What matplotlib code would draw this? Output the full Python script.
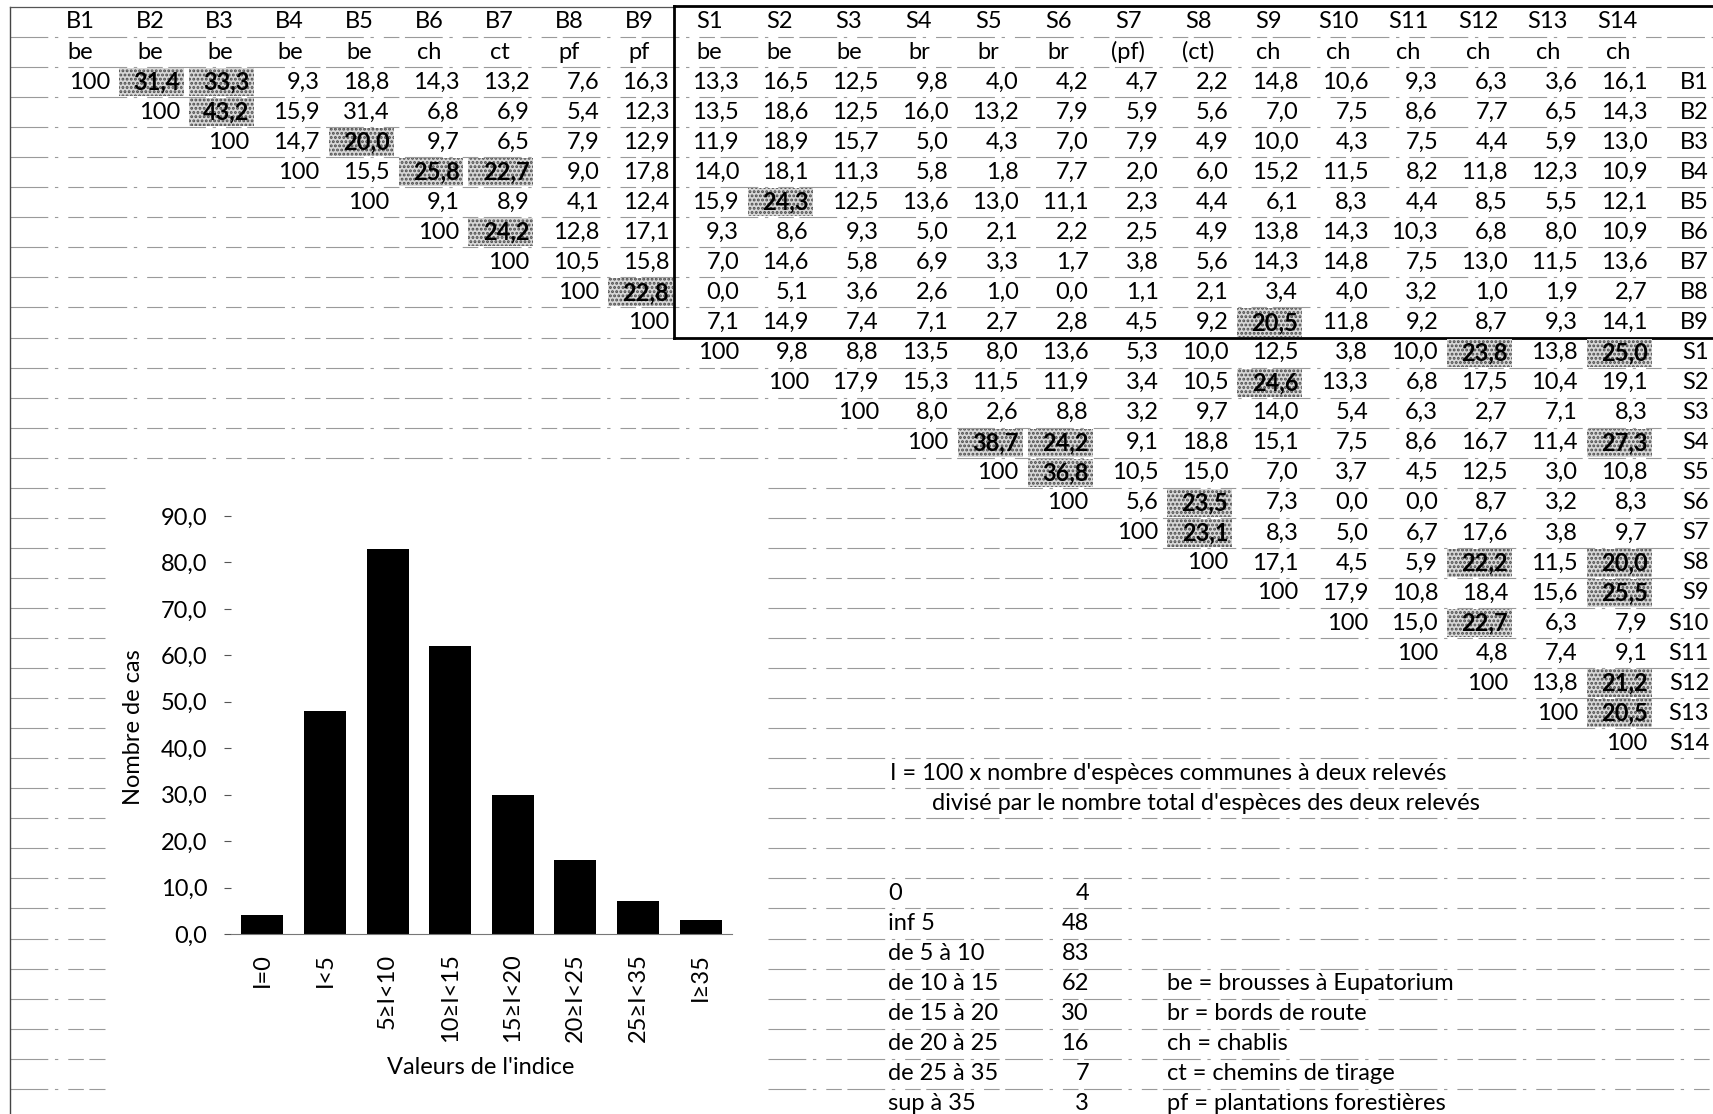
import matplotlib
matplotlib.use("Agg")
import matplotlib.pyplot as plt
from matplotlib.patches import Rectangle

plt.rcParams['font.family'] = ['Lato', 'DejaVu Sans']
plt.rcParams['hatch.linewidth'] = 1.4

# ---- data ----
cols = ['B1', 'B2', 'B3', 'B4', 'B5', 'B6', 'B7', 'B8', 'B9',
        'S1', 'S2', 'S3', 'S4', 'S5', 'S6', 'S7', 'S8', 'S9', 'S10', 'S11', 'S12', 'S13', 'S14']
types = ['be', 'be', 'be', 'be', 'be', 'ch', 'ct', 'pf', 'pf',
         'be', 'be', 'be', 'br', 'br', 'br', '(pf)', '(ct)', 'ch', 'ch', 'ch', 'ch', 'ch', 'ch']

# upper triangle, each row starts at the diagonal (100)
rows = [
    [100, 31.4, 33.3, 9.3, 18.8, 14.3, 13.2, 7.6, 16.3, 13.3, 16.5, 12.5, 9.8, 4.0, 4.2, 4.7, 2.2, 14.8, 10.6, 9.3, 6.3, 3.6, 16.1],
    [100, 43.2, 15.9, 31.4, 6.8, 6.9, 5.4, 12.3, 13.5, 18.6, 12.5, 16.0, 13.2, 7.9, 5.9, 5.6, 7.0, 7.5, 8.6, 7.7, 6.5, 14.3],
    [100, 14.7, 20.0, 9.7, 6.5, 7.9, 12.9, 11.9, 18.9, 15.7, 5.0, 4.3, 7.0, 7.9, 4.9, 10.0, 4.3, 7.5, 4.4, 5.9, 13.0],
    [100, 15.5, 25.8, 22.7, 9.0, 17.8, 14.0, 18.1, 11.3, 5.8, 1.8, 7.7, 2.0, 6.0, 15.2, 11.5, 8.2, 11.8, 12.3, 10.9],
    [100, 9.1, 8.9, 4.1, 12.4, 15.9, 24.3, 12.5, 13.6, 13.0, 11.1, 2.3, 4.4, 6.1, 8.3, 4.4, 8.5, 5.5, 12.1],
    [100, 24.2, 12.8, 17.1, 9.3, 8.6, 9.3, 5.0, 2.1, 2.2, 2.5, 4.9, 13.8, 14.3, 10.3, 6.8, 8.0, 10.9],
    [100, 10.5, 15.8, 7.0, 14.6, 5.8, 6.9, 3.3, 1.7, 3.8, 5.6, 14.3, 14.8, 7.5, 13.0, 11.5, 13.6],
    [100, 22.8, 0.0, 5.1, 3.6, 2.6, 1.0, 0.0, 1.1, 2.1, 3.4, 4.0, 3.2, 1.0, 1.9, 2.7],
    [100, 7.1, 14.9, 7.4, 7.1, 2.7, 2.8, 4.5, 9.2, 20.5, 11.8, 9.2, 8.7, 9.3, 14.1],
    [100, 9.8, 8.8, 13.5, 8.0, 13.6, 5.3, 10.0, 12.5, 3.8, 10.0, 23.8, 13.8, 25.0],
    [100, 17.9, 15.3, 11.5, 11.9, 3.4, 10.5, 24.6, 13.3, 6.8, 17.5, 10.4, 19.1],
    [100, 8.0, 2.6, 8.8, 3.2, 9.7, 14.0, 5.4, 6.3, 2.7, 7.1, 8.3],
    [100, 38.7, 24.2, 9.1, 18.8, 15.1, 7.5, 8.6, 16.7, 11.4, 27.3],
    [100, 36.8, 10.5, 15.0, 7.0, 3.7, 4.5, 12.5, 3.0, 10.8],
    [100, 5.6, 23.5, 7.3, 0.0, 0.0, 8.7, 3.2, 8.3],
    [100, 23.1, 8.3, 5.0, 6.7, 17.6, 3.8, 9.7],
    [100, 17.1, 4.5, 5.9, 22.2, 11.5, 20.0],
    [100, 17.9, 10.8, 18.4, 15.6, 25.5],
    [100, 15.0, 22.7, 6.3, 7.9],
    [100, 4.8, 7.4, 9.1],
    [100, 13.8, 21.2],
    [100, 20.5],
    [100],
]

shaded = [('B1', 'B2'), ('B1', 'B3'), ('B2', 'B3'), ('B3', 'B5'), ('B4', 'B6'), ('B4', 'B7'),
          ('B5', 'S2'), ('B6', 'B7'), ('B8', 'B9'), ('B9', 'S9'), ('S1', 'S12'), ('S1', 'S14'),
          ('S2', 'S9'), ('S4', 'S5'), ('S4', 'S6'), ('S4', 'S14'), ('S5', 'S6'), ('S6', 'S8'),
          ('S7', 'S8'), ('S8', 'S12'), ('S8', 'S14'), ('S9', 'S14'), ('S10', 'S12'),
          ('S12', 'S14'), ('S13', 'S14')]

classes = ['I=0', 'I<5', '5≥I<10', '10≥I<15', '15≥I<20', '20≥I<25', '25≥I<35', 'I≥35']
ranges = ['0', 'inf 5', 'de 5 à 10', 'de 10 à 15', 'de 15 à 20', 'de 20 à 25', 'de 25 à 35', 'sup à 35']
counts = [4, 48, 83, 62, 30, 16, 7, 3]

abbrev = ['be = brousses à Eupatorium', 'br = bords de route', 'ch = chablis',
          'ct = chemins de tirage', 'pf = plantations forestières']

W, H = 1713, 1114
fig = plt.figure(figsize=(W / 100, H / 100), dpi=100)
ax = fig.add_axes([0, 0, 1, 1])
ax.set_xlim(0, W)
ax.set_ylim(H, 0)
ax.axis('off')

cw = 69.9     # cell width (px)
rh = 30.05    # row height (px)
fs = 17


def cx(i):
    return 80 + cw * i


def ry(r):
    return 22 + rh * r


def fmt(v):
    if v == 100:
        return '100'
    return ('%.1f' % v).replace('.', ',')


# faint grid lines (spreadsheet cells)
for r in range(37):
    yb = ry(r + 0.5)
    if yb > 460:
        segs = [(10, 105), (768, W)]
    else:
        segs = [(10, W)]
    for x0, x1 in segs:
        ax.plot([x0, x1], [yb, yb], color='#9a9a9a', lw=0.8,
                dashes=(34, 6, 3, 9, 14, 5), zorder=1)

# page borders
ax.plot([10, 10], [7, H], color='#444444', lw=1.0)
ax.plot([10, 674], [7, 7], color='#555555', lw=0.9)
# box around B x S block
ax.plot([674, W], [6, 6], color='black', lw=2.0)
ax.plot([674, 674], [6, ry(10.5)], color='black', lw=2.0)
ax.plot([674, W], [ry(10.5), ry(10.5)], color='black', lw=2.0)

# headers
for i, (c, t) in enumerate(zip(cols, types)):
    ax.text(cx(i), ry(0), c, ha='center', va='center', fontsize=fs)
    ax.text(cx(i), ry(1), t, ha='center', va='center', fontsize=fs)

# shaded cells
for a, b in shaded:
    i = cols.index(b)
    r = cols.index(a) + 2
    ax.add_patch(Rectangle((cx(i) - cw / 2 + 4, ry(r) - rh / 2 + 1), cw - 5, rh - 2,
                           facecolor='#d8d8d8', edgecolor='#4a4a4a', hatch='....',
                           lw=0, zorder=2))

# values
for k, vals in enumerate(rows):
    r = k + 2
    for j, v in enumerate(vals):
        i = k + j
        bold = (cols[k], cols[i]) in shaded
        ax.text(cx(i) + cw / 2 - 5, ry(r), fmt(v), ha='right', va='center',
                fontsize=fs, fontweight='bold' if bold else 'normal', zorder=3)
    ax.text(W - 4, ry(r), cols[k], ha='right', va='center', fontsize=fs)

# definition of the index
ax.text(890, ry(25), "I = 100 x nombre d'espèces communes à deux relevés",
        ha='left', va='center', fontsize=fs)
ax.text(932, ry(26), "divisé par le nombre total d'espèces des deux relevés",
        ha='left', va='center', fontsize=fs)

# small table of counts + abbreviations
for n, (lab, c) in enumerate(zip(ranges, counts)):
    ax.text(888, ry(29 + n), lab, ha='left', va='center', fontsize=fs)
    ax.text(1089, ry(29 + n), str(c), ha='right', va='center', fontsize=fs)
for n, lab in enumerate(abbrev):
    ax.text(1167, ry(32 + n), lab, ha='left', va='center', fontsize=fs)

# ---- bar chart ----
bx = fig.add_axes([231 / W, (H - 934) / H, 501 / W, 418 / H])
bx.bar(range(len(classes)), counts, width=0.67, color='black')
bx.set_xlim(-0.5, len(classes) - 0.5)
bx.set_ylim(0, 90)
bx.set_yticks(range(0, 91, 10))
bx.set_yticklabels([('%.1f' % v).replace('.', ',') for v in range(0, 91, 10)], fontsize=fs)
bx.set_xticks(range(len(classes)))
bx.set_xticklabels(classes, rotation=90, fontsize=fs)
bx.tick_params(axis='x', length=0, pad=14)
bx.tick_params(axis='y', length=5, width=0.8, color='#555555', pad=12)
for s in ['top', 'right', 'left']:
    bx.spines[s].set_visible(False)
bx.spines['bottom'].set_color('#777777')
bx.spines['bottom'].set_linewidth(0.8)

ax.text(133, 727, 'Nombre de cas', rotation=90, ha='center', va='center', fontsize=fs)
ax.text(481, 1068, "Valeurs de l'indice", ha='center', va='center', fontsize=fs)

fig.savefig('out.png', dpi=100)
